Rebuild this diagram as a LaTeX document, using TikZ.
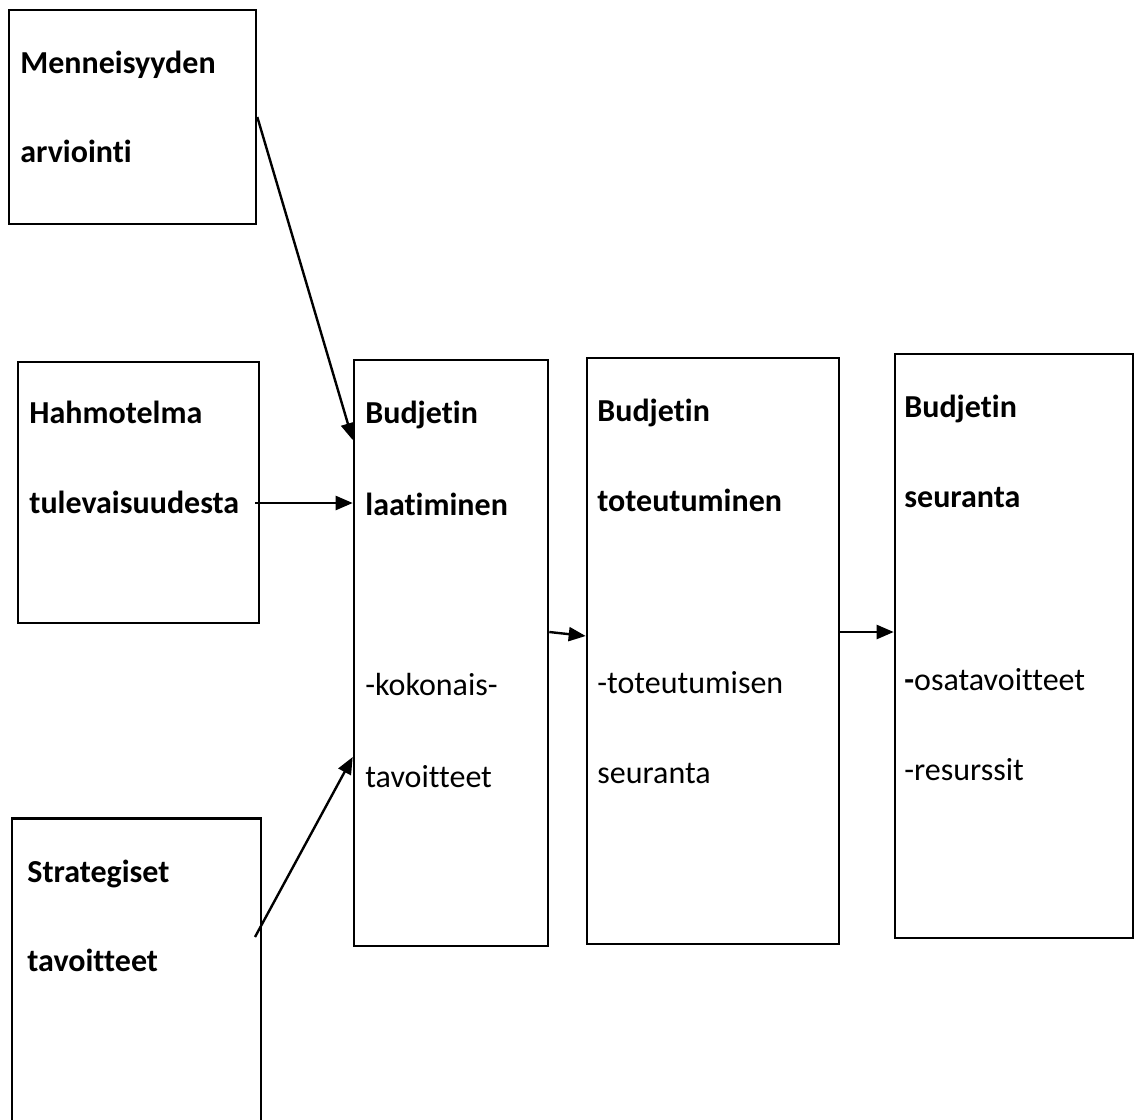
\documentclass[tikz,border=0pt]{standalone}
\usepackage{fontspec}
\setmainfont{Carlito}[Ligatures=NoCommon]
\usetikzlibrary{arrows.meta}

\tikzset{
  box/.style={draw, line width=1.3pt, rectangle, inner sep=0pt},
  ttl/.style={anchor=base west, inner sep=0pt, font=\fontsize{16pt}{18pt}\selectfont\bfseries},
  txt/.style={anchor=base west, inner sep=0pt, font=\fontsize{16pt}{18pt}\selectfont},
  arr/.style={-{Triangle[length=8.5pt,width=7pt]}, line width=1.2pt}
}

\begin{document}
\begin{tikzpicture}[x=0.5pt, y=-0.5pt]
			\useasboundingbox (0,0) rectangle (1134,1119);
			\node [box, minimum width=123.5pt, minimum height=107pt] (mena) at (132.5,117) {};
			\node [box, minimum width=120.5pt, minimum height=130.5pt] (hahm) at (138.5,492.5) {};
			\node [minimum width=124pt, minimum height=155pt, inner sep=0pt] (strat) at (136.5,974) {};
			\draw [line width=1.3pt] (strat.south west) |- (strat.north east) -- (strat.south east);
			\node [box, minimum width=97pt, minimum height=293pt] (laat) at (451,653) {};
			\node [box, minimum width=126pt, minimum height=293pt] (tot) at (713,651) {};
			\node [box, minimum width=119pt, minimum height=292pt] (seur) at (1014,646) {};
			\node [ttl] (mena1) at (20,73) {Menneisyyden};
			\node [ttl] (mena2) at (20,162) {arviointi};
			\node [ttl] (hahm1) at (29,423) {Hahmotelma};
			\node [ttl] (hahm2) at (29,513) {tulevaisuudesta};
			\node [ttl] (strat1) at (27,882) {Strategiset};
			\node [ttl] (strat2) at (27,971) {tavoitteet};
			\node [ttl] (laat1) at (365,423) {Budjetin};
			\node [ttl] (laat2) at (365,515) {laatiminen};
			\node [txt] (laat3) at (365,695) {-kokonais-};
			\node [txt] (laat4) at (365,787) {tavoitteet};
			\node [ttl] (tot1) at (597,421) {Budjetin};
			\node [ttl] (tot2) at (597,511) {toteutuminen};
			\node [txt] (tot3) at (597,693) {-toteutumisen};
			\node [txt] (tot4) at (597,783) {seuranta};
			\node [ttl] (seur1) at (904,417) {Budjetin};
			\node [ttl] (seur2) at (904,507) {seuranta};
			\node [txt] (seur3) at (904,690) {{\bfseries -}osatavoitteet};
			\node [txt] (seur4) at (904,780) {-resurssit};
			\draw [arr] (mena.east) -- (laat.west |- 0,440);
			\draw [arr] (255,503) -- (laat.west |- 0,503);
			\draw [arr] (255,937) -- (laat.west |- 0,757);
			\draw [arr] (laat.east |- 0,632) -- (tot.west |- 0,636);
			\draw [arr] (tot.east |- 0,632) -- (seur.west |- 0,632);
	\end{tikzpicture}
\end{document}
